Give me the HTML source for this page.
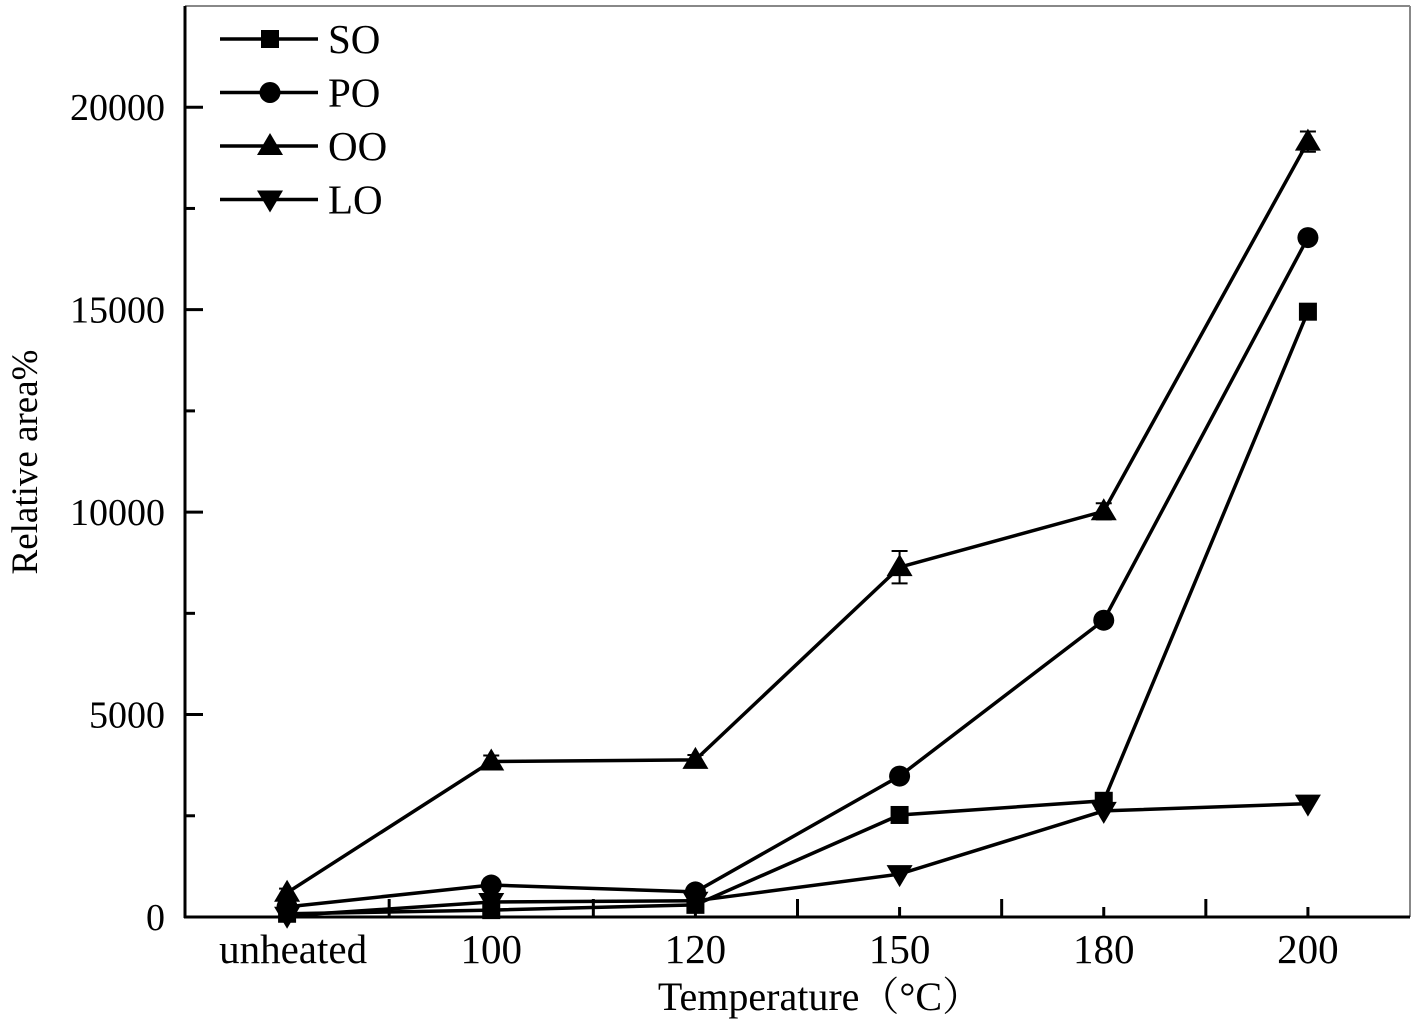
<!DOCTYPE html>
<html><head><meta charset="utf-8"><style>
html,body{margin:0;padding:0;background:#fff;}
svg{display:block;}
text{font-family:"Liberation Serif","Noto Serif CJK SC",serif;fill:#000;}
</style></head><body>
<svg id="chart" width="1418" height="1027" viewBox="0 0 1418 1027"></svg>
<script>
const categories = ["unheated","100","120","150","180","200"];
const seriesNames = ["SO","PO","OO","LO"];
const soValues = [80,170,300,2520,2870,14950];
const poValues = [250,790,620,3480,7330,16780];
const ooValues = [600,3840,3880,8640,10020,19150];
const loValues = [30,370,400,1060,2620,2800];
const ooErrors = [100,150,120,400,200,250];
const yTicks = [0,5000,10000,15000,20000];
const yMinorTicks = [2500,7500,12500,17500];

const NS="http://www.w3.org/2000/svg";
const svg=document.getElementById('chart');
const L=185,R=1410,T=6,B=917;
const yMax=22500;
function xPos(i){return L+(i+0.5)*(R-L)/categories.length;}
function yPos(v){return B-v*(B-T)/yMax;}
function mk(tag,attrs,parent){const e=document.createElementNS(NS,tag);for(const k in attrs)e.setAttribute(k,attrs[k]);(parent||svg).appendChild(e);return e;}

const frame=mk('g',{});


mk('line',{x1:L,y1:T,x2:R,y2:T,stroke:'#888','stroke-width':2},frame);
mk('line',{x1:R,y1:T,x2:R,y2:B,stroke:'#888','stroke-width':2},frame);
mk('line',{x1:L,y1:T,x2:L,y2:B+1,stroke:'#000','stroke-width':3},frame);
mk('line',{x1:L-1,y1:B,x2:R,y2:B,stroke:'#000','stroke-width':3},frame);

const yAxis=mk('g',{});


yTicks.forEach(v=>{
  const y=yPos(v);
  mk('line',{x1:L,y1:y,x2:L+18,y2:y,stroke:'#000','stroke-width':3},yAxis);
  const t=mk('text',{x:L-20,y:y+13,'font-size':38,'text-anchor':'end'},yAxis);
  t.textContent=String(v);
  
  
});
yMinorTicks.forEach(v=>{const y=yPos(v);mk('line',{x1:L,y1:y,x2:L+10,y2:y,stroke:'#000','stroke-width':3},yAxis);});
const xAxis=mk('g',{});


categories.forEach((c,i)=>{
  const x=xPos(i);
  if(i>0){mk('line',{x1:x,y1:B,x2:x,y2:B-10,stroke:'#000','stroke-width':3},xAxis);}
  if(i<categories.length-1){const xm=x+(R-L)/categories.length/2;mk('line',{x1:xm,y1:B,x2:xm,y2:B-18,stroke:'#000','stroke-width':3},xAxis);}
  const t=mk('text',{x:x+(i==0?6:0),y:B+46,'font-size':41,'text-anchor':'middle'},xAxis);
  t.textContent=c;
  
  
});
const yt=mk('text',{x:0,y:0,'font-size':37,'text-anchor':'middle',transform:'translate(37,462) rotate(-90)'});
yt.textContent='Relative area%';


const xt=mk('text',{x:820,y:1010,'font-size':40,'text-anchor':'middle'});
xt.textContent='Temperature（°C）';



function marker(kind,x,y,parent){
  if(kind==='square')return mk('rect',{x:x-9,y:y-9,width:18,height:18,fill:'#000'},parent);
  if(kind==='circle')return mk('circle',{cx:x,cy:y,r:10.5,fill:'#000'},parent);
  if(kind==='up')return mk('polygon',{points:`${x},${y-13} ${x-13},${y+9} ${x+13},${y+9}`,fill:'#000'},parent);
  return mk('polygon',{points:`${x},${y+13} ${x-13},${y-9} ${x+13},${y-9}`,fill:'#000'},parent);
}
const all=[[soValues,'square','SO'],[poValues,'circle','PO'],[ooValues,'up','OO'],[loValues,'down','LO']];
all.forEach(([vals,kind,name])=>{
  const g=mk('g',{});
  
  
  const pts=vals.map((v,i)=>xPos(i)+','+yPos(v)).join(' ');
  mk('polyline',{points:pts,fill:'none',stroke:'#000','stroke-width':3.5},g);
  vals.forEach((v,i)=>{
    if(name==='OO'){
      const e=ooErrors[i],x=xPos(i);
      mk('line',{x1:x,y1:yPos(v+e),x2:x,y2:yPos(v-e),stroke:'#000','stroke-width':2},g);
      mk('line',{x1:x-8,y1:yPos(v+e),x2:x+8,y2:yPos(v+e),stroke:'#000','stroke-width':2},g);
      mk('line',{x1:x-8,y1:yPos(v-e),x2:x+8,y2:yPos(v-e),stroke:'#000','stroke-width':2},g);
    }
    const m=marker(kind,xPos(i),yPos(v),g);
    
    
  });
});
const lg=mk('g',{});


const legendKinds=['square','circle','up','down'];
seriesNames.forEach((n,i)=>{
  const y=39+i*53.5;
  const e=mk('g',{},lg);
  
  
  mk('line',{x1:220,y1:y,x2:318,y2:y,stroke:'#000','stroke-width':3.5},e);
  marker(legendKinds[i],270,y,e);
  const t=mk('text',{x:328,y:y+14,'font-size':41},e);
  t.textContent=n;
});
</script>
</body></html>
